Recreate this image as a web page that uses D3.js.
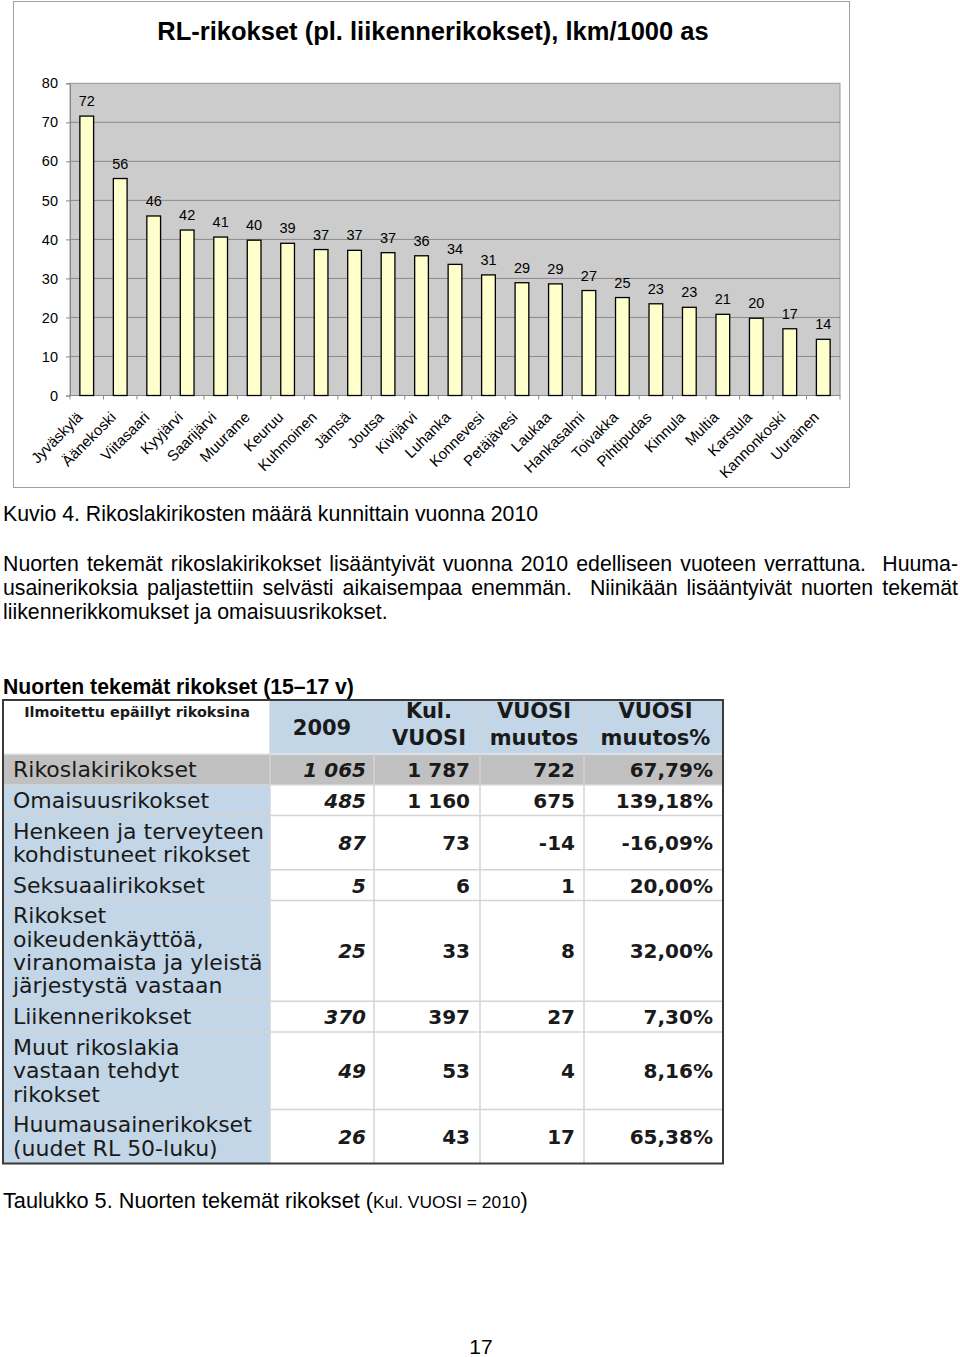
<!DOCTYPE html>
<html>
<head>
<meta charset="utf-8">
<script src="https://cdn.jsdelivr.net/npm/d3@7"></script>
<style>
  html, body { margin: 0; padding: 0; background: #fff; }
  svg { display: block; }
</style>
</head>
<body>
<svg id="page" width="960" height="1357"></svg>
<script>
// ---------------- DATA ----------------
const chartTitle = "RL-rikokset (pl. liikennerikokset), lkm/1000 as";
const municipalities = ["Jyväskylä","Äänekoski","Viitasaari","Kyyjärvi","Saarijärvi","Muurame","Keuruu","Kuhmoinen","Jämsä","Joutsa","Kivijärvi","Luhanka","Konnevesi","Petäjävesi","Laukaa","Hankasalmi","Toivakka","Pihtipudas","Kinnula","Multia","Karstula","Kannonkoski","Uurainen"];
const rates = [71.6, 55.6, 46.0, 42.4, 40.6, 39.8, 39.0, 37.4, 37.2, 36.6, 35.8, 33.6, 30.9, 28.9, 28.6, 26.9, 25.1, 23.5, 22.6, 20.8, 19.8, 17.1, 14.4];
const rateLabels = ["72","56","46","42","41","40","39","37","37","37","36","34","31","29","29","27","25","23","23","21","20","17","14"];
const yTicks = [0, 10, 20, 30, 40, 50, 60, 70, 80];

const figureCaption = "Kuvio 4. Rikoslakirikosten määrä kunnittain vuonna 2010";
const paragraphLines = [
  "Nuorten tekemät rikoslakirikokset lisääntyivät vuonna 2010 edelliseen vuoteen verrattuna.  Huuma-",
  "usainerikoksia paljastettiin selvästi aikaisempaa enemmän.  Niinikään lisääntyivät nuorten tekemät",
  "liikennerikkomukset ja omaisuusrikokset."
];
const tableHeading = "Nuorten tekemät rikokset (15–17 v)";
const tableCorner = "Ilmoitettu epäillyt rikoksina";
const columnHeaders = [["2009"], ["Kul.", "VUOSI"], ["VUOSI", "muutos"], ["VUOSI", "muutos%"]];
const rowLabels = [
  ["Rikoslakirikokset"],
  ["Omaisuusrikokset"],
  ["Henkeen ja terveyteen", "kohdistuneet rikokset"],
  ["Seksuaalirikokset"],
  ["Rikokset", "oikeudenkäyttöä,", "viranomaista ja yleistä", "järjestystä vastaan"],
  ["Liikennerikokset"],
  ["Muut rikoslakia", "vastaan tehdyt", "rikokset"],
  ["Huumausainerikokset", "(uudet RL 50-luku)"]
];
const count2009 = [1065, 485, 87, 5, 25, 370, 49, 26];
const count2010 = [1787, 1160, 73, 6, 33, 397, 53, 43];
const yearChange = [722, 675, -14, 1, 8, 27, 4, 17];
const yearChangePct = [67.79, 139.18, -16.09, 20.00, 32.00, 7.30, 8.16, 65.38];
const tableCaptionMain = "Taulukko 5. Nuorten tekemät rikokset (";
const tableCaptionSmall = "Kul. VUOSI = 2010";
const tableCaptionEnd = ")";
const pageNumber = "17";

// ---------------- RENDER ----------------
const svg = d3.select("#page");
const SANS = "'Liberation Sans', Arial, Helvetica, sans-serif";
const VERD = "'DejaVu Sans', Verdana, sans-serif";
const BODY = 21.3;

// ===== Chart box =====
const chart = svg.append("g");
chart.append("rect").attr("x", 13.5).attr("y", 1.5).attr("width", 836).attr("height", 486)
  .attr("fill", "#fff").attr("stroke", "#a0a0a0").attr("stroke-width", 1);

chart.append("text").attr("x", 433).attr("y", 40).attr("text-anchor", "middle")
  .attr("font-family", SANS).attr("font-weight", "bold").attr("font-size", 25.5)
  .attr("fill", "#000").text(chartTitle);

const plot = { left: 70, right: 840, top: 83.3, bottom: 395.5 };
const x = d3.scaleBand().domain(municipalities).range([plot.left, plot.right]).paddingInner(0.59).paddingOuter(0.295);
const y = d3.scaleLinear().domain([0, 80]).range([plot.bottom, plot.top]);

chart.append("rect").attr("x", plot.left).attr("y", plot.top)
  .attr("width", plot.right - plot.left).attr("height", plot.bottom - plot.top)
  .attr("fill", "#cccccc").attr("stroke", "#999").attr("stroke-width", 1);

// gridlines
chart.append("g").selectAll("line").data(yTicks.filter(d => d > 0 && d < 80)).join("line")
  .attr("x1", plot.left).attr("x2", plot.right)
  .attr("y1", d => y(d)).attr("y2", d => y(d))
  .attr("stroke", "#8a8a8a").attr("stroke-width", 1);

// y axis
const yAxis = d3.axisLeft(y).tickValues(yTicks).tickSize(4).tickPadding(8).tickFormat(d3.format("d"));
const yg = chart.append("g").attr("transform", `translate(${plot.left},0)`).call(yAxis);
yg.select(".domain").attr("stroke", "#888");
yg.selectAll(".tick line").attr("stroke", "#888");
yg.selectAll("text").attr("font-family", SANS).attr("font-size", 14.5).attr("fill", "#000");

// x axis: ticks at category boundaries
const boundaries = d3.range(municipalities.length + 1).map(i => plot.left + i * (plot.right - plot.left) / municipalities.length);
chart.append("line").attr("x1", plot.left).attr("x2", plot.right).attr("y1", plot.bottom).attr("y2", plot.bottom)
  .attr("stroke", "#888");
chart.append("g").selectAll("line").data(boundaries).join("line")
  .attr("x1", d => d).attr("x2", d => d).attr("y1", plot.bottom).attr("y2", plot.bottom + 4)
  .attr("stroke", "#888");

// bars
chart.append("g").selectAll("rect").data(rates).join("rect")
  .attr("x", (d, i) => x(municipalities[i]))
  .attr("y", d => y(d))
  .attr("width", x.bandwidth())
  .attr("height", d => y(0) - y(d))
  .attr("fill", "#ffffcc").attr("stroke", "#000").attr("stroke-width", 1.3);

// value labels
chart.append("g").selectAll("text").data(rates).join("text")
  .attr("x", (d, i) => x(municipalities[i]) + x.bandwidth() / 2)
  .attr("y", d => y(d) - 10)
  .attr("text-anchor", "middle").attr("font-family", SANS).attr("font-size", 14.5).attr("fill", "#000")
  .text((d, i) => rateLabels[i]);

// category labels
chart.append("g").selectAll("text").data(municipalities).join("text")
  .attr("transform", d => `translate(${x(d) + x.bandwidth() / 2 - 7},${plot.bottom + 19}) rotate(-45)`)
  .attr("text-anchor", "end").attr("dy", "0.35em")
  .attr("font-family", SANS).attr("font-size", 15).attr("fill", "#000")
  .text(d => d);

// ===== Caption and paragraph =====
svg.append("text").attr("x", 3).attr("y", 521).attr("font-family", SANS).attr("font-size", BODY)
  .attr("fill", "#000").text(figureCaption);

function justifyLine(str, x0, x1, yy, justify) {
  const g = svg.append("g");
  const words = str.split(" ");
  const tokens = [];
  words.forEach(w => { if (w === "") { if (tokens.length) tokens[tokens.length - 1].extra += 1; } else tokens.push({ w, extra: 0 }); });
  const nodes = tokens.map(t => g.append("text").attr("y", yy).attr("font-family", SANS).attr("font-size", BODY)
    .attr("fill", "#000").text(t.w));
  const widths = nodes.map(n => n.node().getComputedTextLength());
  const total = d3.sum(widths);
  const gapWeights = tokens.slice(0, -1).map(t => 1 + t.extra);
  const sumW = d3.sum(gapWeights);
  const spaceW = BODY * 0.278;
  const gap = justify ? (x1 - x0 - total) / sumW : spaceW;
  let cx = x0;
  nodes.forEach((n, i) => {
    n.attr("x", cx);
    cx += widths[i] + (i < gapWeights.length ? gap * gapWeights[i] : 0);
  });
}
justifyLine(paragraphLines[0], 3, 958, 571, true);
justifyLine(paragraphLines[1], 3, 958, 595, true);
justifyLine(paragraphLines[2], 3, 958, 619, false);

// ===== Table =====
svg.append("text").attr("x", 3).attr("y", 694).attr("font-family", SANS).attr("font-weight", "bold")
  .attr("font-size", 21.2).attr("fill", "#000").text(tableHeading);

const colEdges = [3, 270, 374, 480, 584, 723];
const headerTop = 700, headerBottom = 754;
const lineH = 23.3;
const rowHeights = rowLabels.map(l => 7.5 + lineH * l.length);
const rowTops = [];
let acc = headerBottom;
rowHeights.forEach(h => { rowTops.push(acc); acc += h; });
const tableBottom = acc;

const BLUE = "#c3d6e7";
const GRAY = "#c0c0c0";
const tbl = svg.append("g");

tbl.append("rect").attr("x", colEdges[0]).attr("y", headerTop).attr("width", colEdges[1] - colEdges[0])
  .attr("height", headerBottom - headerTop).attr("fill", "#fff");
tbl.append("rect").attr("x", colEdges[1]).attr("y", headerTop).attr("width", colEdges[5] - colEdges[1])
  .attr("height", headerBottom - headerTop).attr("fill", BLUE);
rowLabels.forEach((l, i) => {
  const gray = i === 0;
  tbl.append("rect").attr("x", colEdges[0]).attr("y", rowTops[i]).attr("width", colEdges[1] - colEdges[0])
    .attr("height", rowHeights[i]).attr("fill", gray ? GRAY : BLUE);
  tbl.append("rect").attr("x", colEdges[1]).attr("y", rowTops[i]).attr("width", colEdges[5] - colEdges[1])
    .attr("height", rowHeights[i]).attr("fill", gray ? GRAY : "#fff");
});
const gridCol = "#d4d4d4";
rowTops.forEach((t, i) => {
  tbl.append("line").attr("x1", colEdges[0]).attr("x2", colEdges[5]).attr("y1", t).attr("y2", t)
    .attr("stroke", i === 0 ? "#e8e8e8" : gridCol).attr("stroke-width", 1.5);
});
colEdges.slice(1, 5).forEach(c => {
  tbl.append("line").attr("x1", c).attr("x2", c).attr("y1", headerTop).attr("y2", tableBottom)
    .attr("stroke", gridCol).attr("stroke-width", 1.5);
});
tbl.append("rect").attr("x", colEdges[0]).attr("y", headerTop).attr("width", colEdges[5] - colEdges[0])
  .attr("height", tableBottom - headerTop).attr("fill", "none").attr("stroke", "#3a3a3a").attr("stroke-width", 2);

// header texts
tbl.append("text").attr("x", (colEdges[0] + colEdges[1]) / 2 + 0.5).attr("y", 717).attr("text-anchor", "middle")
  .attr("font-family", VERD).attr("font-weight", "bold").attr("font-size", 14.4).attr("fill", "#1a1a1a").text(tableCorner);
columnHeaders.forEach((lines, j) => {
  const cx = (colEdges[j + 1] + colEdges[j + 2]) / 2;
  const ys = lines.length === 1 ? [735] : [718, 745];
  lines.forEach((s, k) => {
    tbl.append("text").attr("x", cx + (j === 0 ? 0 : 2)).attr("y", ys[k]).attr("text-anchor", "middle")
      .attr("font-family", VERD).attr("font-weight", "bold").attr("font-size", 21).attr("fill", "#1a1a1a").text(s);
  });
});

// body texts
const fi = d3.formatLocale({ decimal: ",", thousands: " ", grouping: [3], currency: ["", " €"], minus: "-" });
const fInt = fi.format(",d");
const fPct = v => fi.format(",.2f")(v) + "%";
rowLabels.forEach((lines, i) => {
  const center = rowTops[i] + rowHeights[i] / 2;
  const first = center - (lines.length - 1) * lineH / 2 + 7.5;
  lines.forEach((s, k) => {
    tbl.append("text").attr("x", 13).attr("y", first + k * lineH)
      .attr("font-family", VERD).attr("font-size", 22).attr("fill", "#1a1a1a").text(s);
  });
  const by = center + 7.5;
  const cells = [
    { t: fInt(count2009[i]), xr: colEdges[2] - 8, italic: true },
    { t: fInt(count2010[i]), xr: colEdges[3] - 10, italic: false },
    { t: fInt(yearChange[i]), xr: colEdges[4] - 9, italic: false },
    { t: fPct(yearChangePct[i]), xr: colEdges[5] - 10, italic: false }
  ];
  cells.forEach(c => {
    tbl.append("text").attr("x", c.xr).attr("y", by).attr("text-anchor", "end")
      .attr("font-family", VERD).attr("font-weight", "bold").attr("font-style", c.italic ? "italic" : "normal")
      .attr("font-size", 20).attr("fill", "#1a1a1a").text(c.t);
  });
});

// table caption
const cap = svg.append("text").attr("x", 3).attr("y", 1208).attr("font-family", SANS).attr("font-size", 21.7).attr("fill", "#000");
cap.append("tspan").text(tableCaptionMain);
cap.append("tspan").attr("font-size", 17.4).text(tableCaptionSmall);
cap.append("tspan").text(tableCaptionEnd);

// page number
svg.append("text").attr("x", 481).attr("y", 1354).attr("text-anchor", "middle").attr("font-family", SANS)
  .attr("font-size", 21).attr("fill", "#000").text(pageNumber);
</script>
</body>
</html>
